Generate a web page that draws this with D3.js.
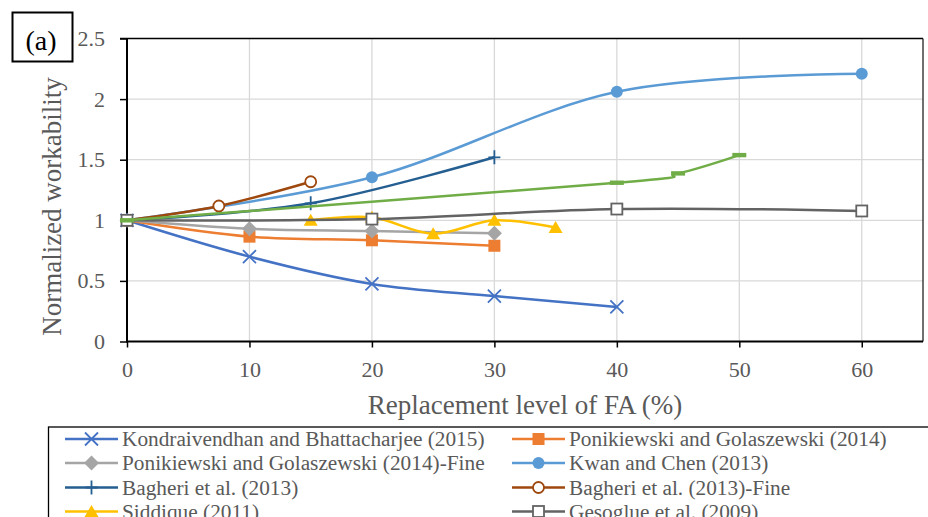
<!DOCTYPE html>
<html>
<head>
<meta charset="utf-8">
<script src="https://cdn.jsdelivr.net/npm/d3@7/dist/d3.min.js"></script>
<style>
  html, body { margin: 0; padding: 0; background: #fff; }
  svg { display: block; font-family: "Liberation Serif", "Times New Roman", serif; }
</style>
</head>
<body>
<svg id="chart" width="928" height="517"></svg>
<script>
// Replacement level of FA (%) versus normalized workability, per study
const xTicks = [0, 10, 20, 30, 40, 50, 60];
const yTicks = [0, 0.5, 1, 1.5, 2, 2.5];

const seriesNames = [
  "Kondraivendhan and Bhattacharjee (2015)",
  "Ponikiewski and Golaszewski (2014)",
  "Ponikiewski and Golaszewski (2014)-Fine",
  "Kwan and Chen (2013)",
  "Bagheri et al. (2013)",
  "Bagheri et al. (2013)-Fine",
  "Siddique (2011)",
  "Gesoglue et al. (2009)",
  ""
];
const seriesColors = ["#4472C4", "#ED7D31", "#A5A5A5", "#5B9BD5", "#255E91", "#9E480E", "#FFC000", "#636363", "#70AD47"];
const seriesMarkers = ["x", "square", "diamond", "circle", "plus", "ocircle", "triangle", "osquare", "dash"];

const kondX = [0, 10, 20, 30, 40];
const kondY = [1, 0.70, 0.475, 0.375, 0.285];
const poniX = [0, 10, 20, 30];
const poniY = [1, 0.865, 0.835, 0.79];
const poniFineX = [0, 10, 20, 30];
const poniFineY = [1, 0.93, 0.912, 0.893];
const kwanX = [0, 20, 40, 60];
const kwanY = [1, 1.355, 2.06, 2.21];
const bagheriX = [0, 15, 30];
const bagheriY = [1, 1.14, 1.52];
const bagheriFineX = [0, 7.5, 15];
const bagheriFineY = [1, 1.118, 1.318];
const siddiqueX = [15, 20, 25, 30, 35];
const siddiqueY = [1.0, 1.025, 0.89, 1.0, 0.94];
const gesoglueX = [0, 20, 40, 60];
const gesoglueY = [1, 1.01, 1.093, 1.077];
const ninthX = [0, 40, 45, 50];
const ninthY = [1, 1.31, 1.387, 1.538];

const seriesX = [kondX, poniX, poniFineX, kwanX, bagheriX, bagheriFineX, siddiqueX, gesoglueX, ninthX];
const seriesY = [kondY, poniY, poniFineY, kwanY, bagheriY, bagheriFineY, siddiqueY, gesoglueY, ninthY];

const svg = d3.select("#chart");
const plot = { left: 127, right: 923, top: 38.5, bottom: 341.5 };
const textColor = "#595959";
const serif = "Liberation Serif, Times New Roman, serif";

const x = d3.scaleLinear().domain([0, 65]).range([plot.left, plot.right]);
const y = d3.scaleLinear().domain([0, 2.5]).range([plot.bottom, plot.top]);

// gridlines
svg.append("g").selectAll("line").data(xTicks.filter(d => d > 0)).join("line")
  .attr("x1", d => x(d)).attr("x2", d => x(d))
  .attr("y1", plot.top).attr("y2", plot.bottom)
  .attr("stroke", "#d9d9d9").attr("stroke-width", 1.3);
svg.append("g").selectAll("line").data(yTicks.filter(d => d > 0 && d < 2.5)).join("line")
  .attr("x1", plot.left).attr("x2", plot.right)
  .attr("y1", d => y(d)).attr("y2", d => y(d))
  .attr("stroke", "#d9d9d9").attr("stroke-width", 1.3);

// plot frame
svg.append("line").attr("x1", plot.left - 7).attr("x2", plot.right)
  .attr("y1", plot.top).attr("y2", plot.top).attr("stroke", "#000").attr("stroke-width", 1.3);
svg.append("line").attr("x1", plot.right).attr("x2", plot.right)
  .attr("y1", plot.top).attr("y2", plot.bottom).attr("stroke", "#222").attr("stroke-width", 1.3);

// axes
const xAxis = svg.append("g").attr("transform", `translate(0,${plot.bottom})`)
  .call(d3.axisBottom(x).tickValues(xTicks).tickSize(6).tickPadding(14).tickFormat(d3.format("d")));
const yAxis = svg.append("g").attr("transform", `translate(${plot.left},0)`)
  .call(d3.axisLeft(y).tickValues(yTicks).tickSize(7).tickPadding(15).tickFormat(d => String(d)));
[xAxis, yAxis].forEach(g => {
  g.attr("font-family", serif);
  g.select(".domain").attr("stroke", "#000").attr("stroke-width", 2);
  g.selectAll(".tick line").attr("stroke", "#000").attr("stroke-width", 1.5);
  g.selectAll(".tick text").attr("fill", textColor).attr("font-size", 22).attr("font-family", serif);
});
xAxis.select(".domain").attr("d", `M${plot.left},0H${plot.right}`);
yAxis.select(".domain").attr("d", `M0,${plot.bottom + 1}V${plot.top}`);

// axis titles
svg.append("text").attr("x", (plot.left + plot.right) / 2).attr("y", 414)
  .attr("text-anchor", "middle").attr("font-size", 27).attr("font-family", serif).attr("fill", textColor)
  .text("Replacement level of FA (%)");
svg.append("text").attr("transform", "translate(61,206.5) rotate(-90)")
  .attr("text-anchor", "middle").attr("font-size", 27).attr("font-family", serif).attr("fill", textColor)
  .text("Normalized workability");

// panel tag
svg.append("rect").attr("x", 12.5).attr("y", 12.5).attr("width", 60).attr("height", 49)
  .attr("fill", "#fff").attr("stroke", "#000").attr("stroke-width", 2);
svg.append("text").attr("x", 41).attr("y", 50).attr("text-anchor", "middle")
  .attr("font-size", 28).attr("font-family", serif).attr("fill", "#000").text("(a)");

function drawMarker(g, type, color, cx, cy) {
  const m = g.append("g").attr("transform", `translate(${cx},${cy})`);
  switch (type) {
    case "x":
      m.append("path").attr("d", "M-6.5,-6.5L6.5,6.5M-6.5,6.5L6.5,-6.5")
        .attr("stroke", color).attr("stroke-width", 1.8).attr("fill", "none");
      break;
    case "square":
      m.append("rect").attr("x", -6).attr("y", -6).attr("width", 12).attr("height", 12).attr("fill", color);
      break;
    case "diamond":
      m.append("path").attr("d", "M0,-7.5L7.5,0L0,7.5L-7.5,0Z").attr("fill", color);
      break;
    case "circle":
      m.append("circle").attr("r", 6).attr("fill", color);
      break;
    case "plus":
      m.append("path").attr("d", "M0,-7L0,7M-6,0L6,0")
        .attr("stroke", color).attr("stroke-width", 1.8).attr("fill", "none");
      break;
    case "ocircle":
      m.append("circle").attr("r", 5.5).attr("fill", "#fff").attr("stroke", color).attr("stroke-width", 1.8);
      break;
    case "triangle":
      m.append("path").attr("d", "M0,-6.5L7,5.5L-7,5.5Z").attr("fill", color);
      break;
    case "osquare":
      m.append("rect").attr("x", -5.5).attr("y", -5.5).attr("width", 11).attr("height", 11)
        .attr("fill", "#fff").attr("stroke", color).attr("stroke-width", 1.8);
      break;
    case "dash":
      m.append("rect").attr("x", -7).attr("y", -2.2).attr("width", 14).attr("height", 4.4).attr("fill", color);
      break;
  }
}

// series lines and markers (smoothed)
const line = d3.line().curve(d3.curveCardinal.tension(0)).x(d => x(d[0])).y(d => y(d[1]));
seriesX.forEach((xs, i) => {
  const pts = xs.map((v, j) => [v, seriesY[i][j]]);
  const g = svg.append("g");
  g.append("path").attr("d", line(pts)).attr("fill", "none")
    .attr("stroke", seriesColors[i]).attr("stroke-width", 2.5);
  pts.forEach(p => drawMarker(g, seriesMarkers[i], seriesColors[i], x(p[0]), y(p[1])));
});

// legend (two columns; lower rows run past the bottom edge)
const legend = svg.append("g");
legend.append("rect").attr("x", 48.5).attr("y", 427).attr("width", 900).attr("height", 200)
  .attr("fill", "#fff").attr("stroke", "#000").attr("stroke-width", 1.3);
const colX = [65, 512];
const rowY = [439, 463, 487.5, 511.5];
seriesNames.forEach((name, i) => {
  if (i >= 8) return;
  const cx = colX[i % 2], cy = rowY[Math.floor(i / 2)];
  legend.append("line").attr("x1", cx).attr("x2", cx + 53).attr("y1", cy).attr("y2", cy)
    .attr("stroke", seriesColors[i]).attr("stroke-width", 2.5);
  drawMarker(legend, seriesMarkers[i], seriesColors[i], cx + 26.5, cy);
  legend.append("text").attr("x", cx + 57).attr("y", cy + 7)
    .attr("font-size", 21.3).attr("font-family", serif).attr("fill", textColor).text(name);
});
</script>
</body>
</html>
